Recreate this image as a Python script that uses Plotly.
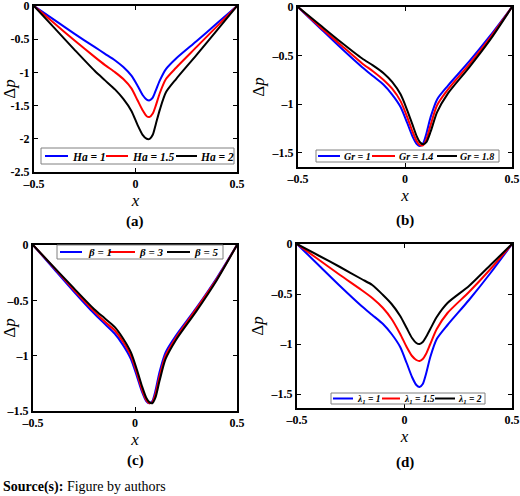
import plotly.graph_objects as go

W, H = 520, 496

# ---------------- data ----------------
x = [-0.5, -0.4, -0.3, -0.2, -0.15, -0.1, -0.06, -0.02, 0.01, 0.035, 0.055, 0.07, 0.085, 0.1, 0.12, 0.15, 0.2, 0.3, 0.4, 0.5]

# (a) Hartmann number
ha_labels = ["Ha = 1", "Ha = 1.5", "Ha = 2"]
ha_1 = [0, -0.21, -0.42, -0.62, -0.72, -0.82, -0.92, -1.05, -1.2, -1.34, -1.41, -1.42, -1.38, -1.27, -1.12, -0.95, -0.79, -0.53, -0.265, 0]
ha_15 = [0, -0.26, -0.52, -0.77, -0.89, -1.0, -1.1, -1.24, -1.42, -1.57, -1.66, -1.67, -1.62, -1.5, -1.31, -1.1, -0.93, -0.62, -0.31, 0]
ha_2 = [0, -0.33, -0.66, -0.98, -1.12, -1.26, -1.4, -1.58, -1.79, -1.94, -2.0, -2.0, -1.94, -1.78, -1.56, -1.3, -1.1, -0.74, -0.37, 0]

# (b) Grashof number
gr_labels = ["Gr = 1", "Gr = 1.4", "Gr = 1.8"]
gr_1 = [0, -0.21, -0.42, -0.62, -0.71, -0.8, -0.9, -1.03, -1.19, -1.33, -1.41, -1.43, -1.4, -1.3, -1.13, -0.95, -0.81, -0.56, -0.29, 0]
gr_14 = [0, -0.2, -0.39, -0.58, -0.66, -0.75, -0.84, -0.97, -1.13, -1.28, -1.38, -1.42, -1.42, -1.36, -1.21, -1.01, -0.85, -0.59, -0.31, 0]
gr_18 = [0, -0.18, -0.36, -0.53, -0.6, -0.68, -0.77, -0.9, -1.06, -1.21, -1.33, -1.39, -1.41, -1.39, -1.28, -1.08, -0.89, -0.62, -0.33, 0]

# (c) beta
be_labels = ["β = 1", "β = 3", "β = 5"]
be_1 = [0, -0.21, -0.42, -0.62, -0.71, -0.8, -0.9, -1.03, -1.19, -1.33, -1.41, -1.43, -1.41, -1.32, -1.15, -0.97, -0.82, -0.57, -0.3, 0]
be_3 = [0, -0.2, -0.405, -0.6, -0.69, -0.77, -0.87, -1.0, -1.16, -1.31, -1.4, -1.43, -1.42, -1.35, -1.19, -1.0, -0.84, -0.58, -0.31, 0]
be_5 = [0, -0.195, -0.39, -0.58, -0.66, -0.74, -0.84, -0.97, -1.13, -1.28, -1.38, -1.42, -1.43, -1.38, -1.23, -1.03, -0.86, -0.6, -0.32, 0]

# (d) lambda_1
la_labels = ["λ<sub>1</sub> = 1", "λ<sub>1</sub> = 1.5", "λ<sub>1</sub> = 2"]
la_1 = [0, -0.21, -0.42, -0.62, -0.71, -0.8, -0.9, -1.03, -1.19, -1.33, -1.41, -1.43, -1.4, -1.3, -1.13, -0.95, -0.81, -0.56, -0.29, 0]
la_15 = [0, -0.155, -0.31, -0.46, -0.54, -0.64, -0.75, -0.9, -1.03, -1.12, -1.16, -1.17, -1.15, -1.1, -1.0, -0.85, -0.69, -0.48, -0.25, 0]
la_2 = [0, -0.115, -0.23, -0.35, -0.41, -0.51, -0.6, -0.72, -0.84, -0.94, -0.99, -1.0, -0.98, -0.93, -0.85, -0.73, -0.59, -0.42, -0.21, 0]

x_ticks = [-0.5, 0, 0.5]
x_ticktext = ["–0.5", "0", "0.5"]
ya_ticks = [0, -0.5, -1, -1.5, -2, -2.5]
ya_ticktext = ["0", "-0.5", "-1", "-1.5", "-2", "-2.5"]
yb_ticks = [0, -0.5, -1, -1.5]
yb_ticktext = ["0", "–0.5", "–1", "–1.5"]

captions = ["(a)", "(b)", "(c)", "(d)"]

# ---------------- layout helpers ----------------
def px(v):
    return v / W

def py(v):
    return 1 - v / H

colors = ["#0000ff", "#ff0000", "#000000"]
FONT = "Liberation Serif, Times New Roman, DejaVu Serif, serif"

panels = [
    dict(series=[ha_1, ha_15, ha_2], labels=ha_labels, dom_x=(34, 237), dom_y=(6, 172),
         yr=[-2.5, 0], yt=ya_ticks, ytt=ya_ticktext, cap=(135, 222),
         leg_box=(41, 148, 234, 164), leg_lines=[(45, 68), (106, 128), (176, 197)],
         leg_text=[70, 130, 198], leg_size=11.5),
    dict(series=[gr_1, gr_14, gr_18], labels=gr_labels, dom_x=(298, 512), dom_y=(7, 167),
         yr=[-1.645, 0], yt=yb_ticks, ytt=yb_ticktext, cap=(405, 220),
         leg_box=(316, 150, 499, 162), leg_lines=[(318, 340), (372, 395), (437, 457)],
         leg_text=[342, 397, 458], leg_size=10),
    dict(series=[be_1, be_3, be_5], labels=be_labels, dom_x=(33, 237), dom_y=(245, 411),
         yr=[-1.5, 0], yt=yb_ticks, ytt=yb_ticktext, cap=(135, 460),
         leg_box=(57, 245, 223, 259), leg_lines=[(60, 82), (110, 135), (167, 190)],
         leg_text=[86, 137, 192], leg_size=11),
    dict(series=[la_1, la_15, la_2], labels=la_labels, dom_x=(297, 512), dom_y=(244, 408),
         yr=[-1.64, 0], yt=yb_ticks, ytt=yb_ticktext, cap=(405, 462),
         leg_box=(331, 393, 485, 404), leg_lines=[(333, 353), (382, 400), (435, 455)],
         leg_text=[355, 402, 456], leg_size=9.5),
]

fig = go.Figure()
shapes = []
annotations = []

for i, p in enumerate(panels):
    n = "" if i == 0 else str(i + 1)
    xa, ya = "x" + n, "y" + n
    for s, lab, c in zip(p["series"], p["labels"], colors):
        fig.add_trace(go.Scatter(x=x, y=s, mode="lines", name=lab, xaxis=xa, yaxis=ya,
                                 line=dict(color=c, width=2, shape="spline", smoothing=0.7),
                                 showlegend=False))
    axis_common = dict(showline=True, linecolor="black", linewidth=2, mirror="ticks",
                       ticks="inside", ticklen=4, tickwidth=1.2, tickcolor="black",
                       showgrid=False, zeroline=False, automargin=False,
                       ticklabeloverflow="allow",
                       tickfont=dict(family=FONT, size=12, color="black", weight="bold"))
    fig.layout["xaxis" + n] = dict(
        domain=[px(p["dom_x"][0]), px(p["dom_x"][1])], anchor=ya, range=[-0.5, 0.5],
        tickvals=x_ticks, ticktext=x_ticktext,
        title=dict(text="<i>x</i>", font=dict(family=FONT, size=17, color="black"), standoff=1),
        **axis_common)
    fig.layout["yaxis" + n] = dict(
        domain=[py(p["dom_y"][1]), py(p["dom_y"][0])], anchor=xa, range=p["yr"],
        tickvals=p["yt"], ticktext=p["ytt"],
        title=dict(text="Δ<i>p</i>", font=dict(family=FONT, size=17, color="black"), standoff=3),
        **axis_common)
    # caption
    annotations.append(dict(text="<b>" + captions[i] + "</b>", x=px(p["cap"][0]), y=py(p["cap"][1]),
                            xref="paper", yref="paper", showarrow=False, xanchor="center", yanchor="middle",
                            font=dict(family=FONT, size=15, color="black")))
    # legend box
    bx0, by0, bx1, by1 = p["leg_box"]
    shapes.append(dict(type="rect", xref="paper", yref="paper", x0=px(bx0), x1=px(bx1),
                       y0=py(by1), y1=py(by0), fillcolor="white", line=dict(color="#808080", width=1)))
    yc = (by0 + by1) / 2
    for (lx0, lx1), tx, lab, c in zip(p["leg_lines"], p["leg_text"], p["labels"], colors):
        shapes.append(dict(type="line", xref="paper", yref="paper", x0=px(lx0), x1=px(lx1),
                           y0=py(yc), y1=py(yc), line=dict(color=c, width=2)))
        annotations.append(dict(text="<b><i>" + lab + "</i></b>", x=px(tx), y=py(yc + 0.5),
                                xref="paper", yref="paper", showarrow=False,
                                xanchor="left", yanchor="middle",
                                font=dict(family=FONT, size=p["leg_size"], color="black")))

annotations.append(dict(text="<b>Source(s):</b> Figure by authors", x=px(1), y=py(487),
                        xref="paper", yref="paper", showarrow=False, xanchor="left", yanchor="middle",
                        font=dict(family=FONT, size=14, color="black")))

fig.update_layout(width=W, height=H, margin=dict(l=0, r=0, t=0, b=0),
                  paper_bgcolor="white", plot_bgcolor="white",
                  shapes=shapes, annotations=annotations, showlegend=False)

fig.write_html("out.html", config={"displayModeBar": False},
               post_script="document.body.style.margin='0px';")
